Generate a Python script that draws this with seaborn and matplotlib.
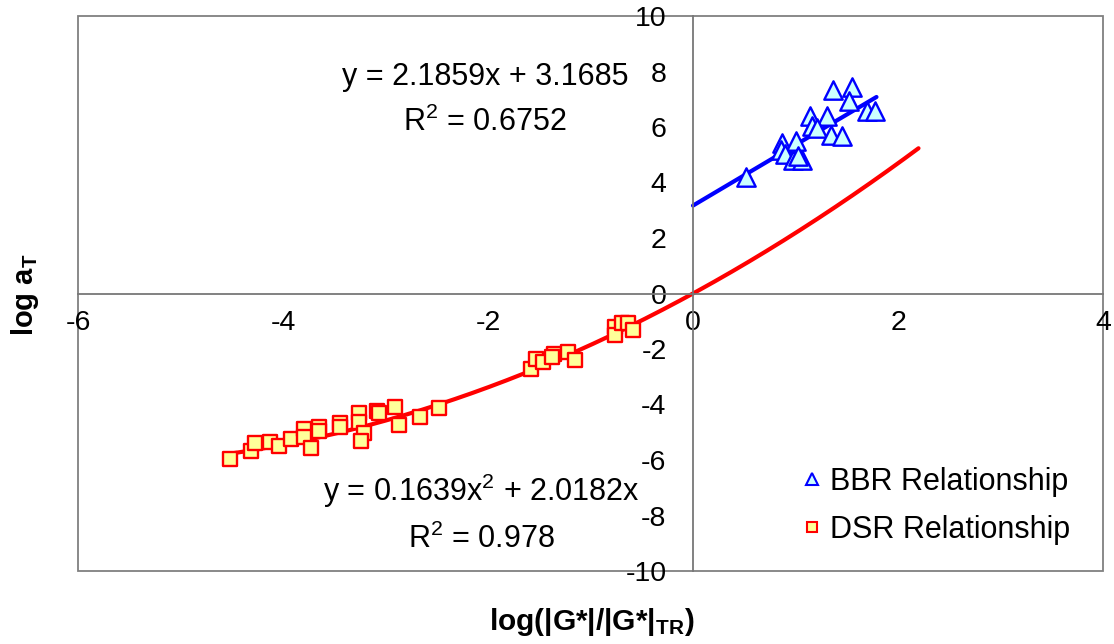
import numpy as np
import pandas as pd
import matplotlib
matplotlib.use("Agg")
import matplotlib.pyplot as plt
from matplotlib.lines import Line2D
from matplotlib.patches import Rectangle
import seaborn as sns

# ---- data ----
bbr_x = [0.52, 1.37, 1.55, 1.52, 1.14, 1.31, 1.16, 1.21, 1.70, 1.78,
         1.35, 1.45, 0.87, 1.00, 0.86, 0.90, 0.98, 1.06, 1.02]
bbr_y = [4.21, 7.34, 7.44, 6.92, 6.41, 6.41, 6.02, 5.96, 6.58, 6.56,
         5.72, 5.66, 5.42, 5.48, 5.18, 5.02, 4.81, 4.81, 4.97]

dsr_x = [-4.52, -4.31, -4.27, -4.13, -4.04, -3.92, -3.80, -3.80, -3.73, -3.65,
         -3.65, -3.44, -3.44, -3.26, -3.26, -3.21, -3.24, -3.08, -3.06, -2.91,
         -2.87, -2.66, -2.48, -1.58, -1.53, -1.46, -1.36, -1.38, -1.22, -1.15,
         -0.76, -0.76, -0.69, -0.63, -0.59]
dsr_y = [-5.98, -5.68, -5.38, -5.35, -5.50, -5.23, -4.90, -5.17, -5.56, -4.81,
         -4.96, -4.67, -4.81, -4.31, -4.63, -5.02, -5.32, -4.24, -4.31, -4.09,
         -4.75, -4.45, -4.12, -2.71, -2.35, -2.47, -2.17, -2.29, -2.11, -2.41,
         -1.20, -1.48, -1.08, -1.08, -1.32]

# trendline equations as printed on the chart
bbr_slope, bbr_intercept = 2.1859, 3.1685
bbr_line_range = (0.0, 1.79)
dsr_a, dsr_b = 0.1639, 2.0182
dsr_line_range = (-4.52, 2.2)

bbr_label = "BBR Relationship"
dsr_label = "DSR Relationship"
bbr_eq = ["y = 2.1859x + 3.1685", "R$^2$ = 0.6752"]
dsr_eq = ["y = 0.1639x$^2$ + 2.0182x", "R$^2$ = 0.978"]

x_ticks = [-6, -4, -2, 0, 2, 4]
y_ticks = [-10, -8, -6, -4, -2, 0, 2, 4, 6, 8, 10]

# ---- style ----
sns.set_theme(style="white")
plt.rcParams["font.family"] = ["Liberation Sans", "DejaVu Sans"]
plt.rcParams["mathtext.fontset"] = "custom"
plt.rcParams["mathtext.rm"] = "Liberation Sans"
plt.rcParams["mathtext.it"] = "Liberation Sans:italic"
plt.rcParams["mathtext.bf"] = "Liberation Sans:bold"
for k in ["text.color", "axes.labelcolor", "xtick.color", "ytick.color"]:
    plt.rcParams[k] = "black"

FS = 22
TFS = 20.5

fig = plt.figure(figsize=(11.14, 6.44), dpi=100)
ax = fig.add_axes([78 / 1114, 1 - 571 / 644, (1103 - 78) / 1114, (571 - 16) / 644])

# trend lines
xl = np.linspace(*dsr_line_range, 200)
dsr_line = pd.DataFrame({"x": xl, "y": dsr_a * xl ** 2 + dsr_b * xl})
xb = np.linspace(*bbr_line_range, 50)
bbr_line = pd.DataFrame({"x": xb, "y": bbr_slope * xb + bbr_intercept})
sns.lineplot(data=dsr_line, x="x", y="y", color="#FF0000", lw=3, ax=ax, zorder=2)
sns.lineplot(data=bbr_line, x="x", y="y", color="#0000FF", lw=3, ax=ax, zorder=2)

# scatter
bbr = pd.DataFrame({"x": bbr_x, "y": bbr_y})
dsr = pd.DataFrame({"x": dsr_x, "y": dsr_y})
sns.scatterplot(data=bbr, x="x", y="y", marker="^", s=175, color="#CCFFFF",
                edgecolor="#0000FF", linewidth=1.7, ax=ax, zorder=3)
sns.scatterplot(data=dsr, x="x", y="y", marker="s", s=105, color="#FFFF99",
                edgecolor="#FF0000", linewidth=1.7, ax=ax, zorder=3)

ax.set_xlim(-6, 4)
ax.set_ylim(-10, 10)
ax.set_xticks(x_ticks)
ax.set_yticks(y_ticks)
ax.set_xticklabels([str(t) for t in x_ticks])
ax.set_yticklabels([str(t) for t in y_ticks])

# axes through zero
for s in ["top", "right"]:
    ax.spines[s].set_visible(False)
ax.spines["left"].set_position(("data", 0))
ax.spines["bottom"].set_position(("data", 0))
for s in ["left", "bottom"]:
    ax.spines[s].set_color("#777777")
    ax.spines[s].set_linewidth(1.3)
ax.add_patch(Rectangle((0, 0), 1, 1, transform=ax.transAxes, fill=False,
                       edgecolor="#808080", lw=1.3, zorder=0, clip_on=False))

ax.tick_params(axis="both", direction="in", length=7, width=1, color="black",
               labelsize=TFS, labelcolor="black")
ax.tick_params(axis="x", pad=12)
ax.tick_params(axis="y", pad=19)

ax.set_xlabel("")
ax.set_ylabel("")
fig.text(25 / 1114, 1 - 295 / 644, r"$\mathbf{log\ a_T}$", rotation=90,
         ha="center", va="center", fontsize=21)
fig.text(592 / 1114, 1 - 622 / 644, r"$\mathbf{log(|G{*}|/|G{*}|_{TR})}$",
         ha="center", va="center", fontsize=21.5)

# equations
ax.text(-2.03, 7.80, bbr_eq[0], ha="center", va="center", fontsize=FS)
ax.text(-2.03, 6.15, bbr_eq[1], ha="center", va="center", fontsize=FS)
ax.text(-2.07, -7.12, dsr_eq[0], ha="center", va="center", fontsize=FS)
ax.text(-2.06, -8.85, dsr_eq[1], ha="center", va="center", fontsize=FS)

handles = [
    Line2D([], [], ls="none", marker="^", ms=8, mfc="#CCFFFF", mec="#0000FF", mew=1.5),
    Line2D([], [], ls="none", marker="s", ms=7, mfc="#FFFF99", mec="#FF0000", mew=1.5),
]
ax.legend(handles, [bbr_label, dsr_label], loc="center left",
          bbox_to_anchor=(789 / 1114, 1 - 506 / 644), bbox_transform=fig.transFigure,
          frameon=False, fontsize=FS, handlelength=0.5, handletextpad=0.35,
          labelspacing=0.6, borderpad=0)

fig.savefig("out.png", dpi=100)
